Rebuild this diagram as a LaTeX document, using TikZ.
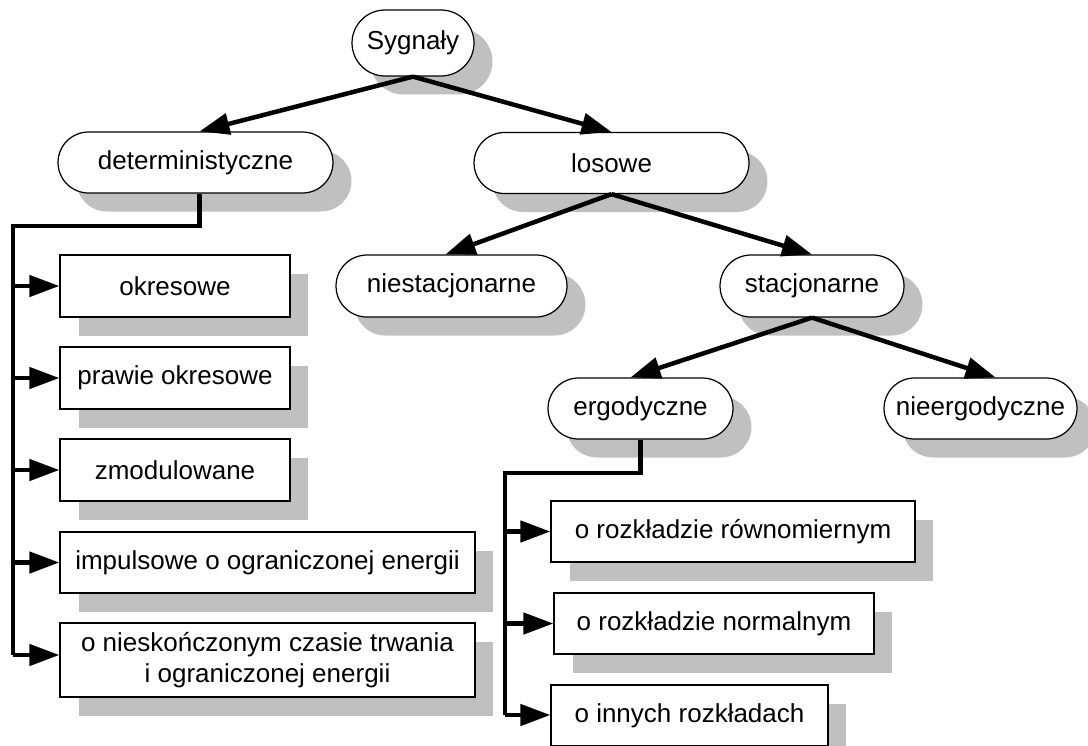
\documentclass[tikz,border=0pt]{standalone}
\usepackage{fontspec}
\setmainfont{Liberation Sans}
\usetikzlibrary{arrows.meta,shapes.misc,shadows,calc}
\definecolor{shade}{RGB}{192,192,192}
\begin{document}
\begin{tikzpicture}[x=0.02cm,y=-0.02cm,
  font=\fontsize{14.8}{18}\selectfont,
  shadowed/.style={drop shadow={shadow xshift=0.37cm, shadow yshift=-0.37cm, fill=shade, opacity=1}},
  pill/.style={rounded rectangle, draw, line width=0.7pt, fill=white, shadowed,
    inner sep=0pt, minimum height=1.22cm},
  plainbox/.style={rectangle, draw, line width=0.7pt, fill=white, shadowed,
    inner sep=0pt, minimum height=1.22cm, align=center},
  link/.style={line width=0.09cm, -{Triangle[length=0.6cm,width=0.42cm]}},
  trunk/.style={line width=0.09cm},
]
\useasboundingbox (0,0) rectangle (1088,745);

% rounded category nodes
\node[pill, minimum width=2.44cm, minimum height=1.32cm] (syg) at (413,43) {Sygnały};
\node[pill, minimum width=5.5cm] (det) at (195.5,162.5) {deterministyczne};
\node[pill, minimum width=5.5cm] (los) at (611.5,163) {losowe};
\node[pill, minimum width=4.62cm, minimum height=1.24cm] (nst) at (451.5,286) {niestacjonarne};
\node[pill, minimum width=3.68cm, minimum height=1.24cm] (sta) at (812,286) {stacjonarne};
\node[pill, minimum width=3.7cm] (erg) at (640.5,408.5) {ergodyczne};
\node[pill, minimum width=3.86cm] (nerg) at (980.5,408.5) {nieergodyczne};

% deterministic signal kinds
\node[plainbox, minimum width=4.6cm, minimum height=1.24cm] (okr) at (175,286) {okresowe};
\node[plainbox, minimum width=4.6cm, minimum height=1.24cm] (pok) at (175,378) {prawie okresowe};
\node[plainbox, minimum width=4.6cm, minimum height=1.24cm] (zmo) at (175,470) {zmodulowane};
\node[plainbox, minimum width=8.3cm] (imp) at (267.5,562.5) {impulsowe o ograniczonej energii};
\node[plainbox, minimum width=8.3cm, minimum height=1.48cm] (nsk) at (267.5,660)
  {o nieskończonym czasie trwania\\i ograniczonej energii};

% ergodic distribution kinds
\node[plainbox, minimum width=7.28cm] (rrw) at (733,531.5) {o rozkładzie równomiernym};
\node[plainbox, minimum width=6.4cm] (rno) at (714,623.5) {o rozkładzie normalnym};
\node[plainbox, minimum width=5.54cm] (rin) at (689.5,715.5) {o innych rozkładach};

% tree connectors
\draw[link] (syg.south) -- ([xshift=0.08cm]det.north);
\draw[link] (syg.south) -- (los.north);
\draw[link] (los.south) -- ([xshift=-0.12cm]nst.north);
\draw[link] (los.south) -- (sta.north);
\draw[link] (sta.south) -- ([xshift=-0.2cm]erg.north);
\draw[link] (sta.south) -- ([xshift=0.3cm]nerg.north);

% bracket from deterministyczne
\coordinate (dtop) at (13,226);
\coordinate (dbot) at (13,655);
\draw[trunk] ([xshift=0.08cm]det.south) |- (dtop) -- (dbot);
\draw[link] (dtop |- okr.west) -- (okr.west);
\draw[link] (dtop |- pok.west) -- (pok.west);
\draw[link] (dtop |- zmo.west) -- (zmo.west);
\draw[link] (dtop |- imp.west) -- (imp.west);
\draw[link] (dbot) -- (nsk.west |- dbot);

% bracket from ergodyczne
\coordinate (etop) at (505,473);
\coordinate (ebot) at (505,715);
\draw[trunk] (erg.south) |- (etop) -- (ebot);
\draw[link] (etop |- rrw.west) -- (rrw.west);
\draw[link] (etop |- rno.west) -- (rno.west);
\draw[link] (ebot) -- (rin.west |- ebot);
\end{tikzpicture}
\end{document}
